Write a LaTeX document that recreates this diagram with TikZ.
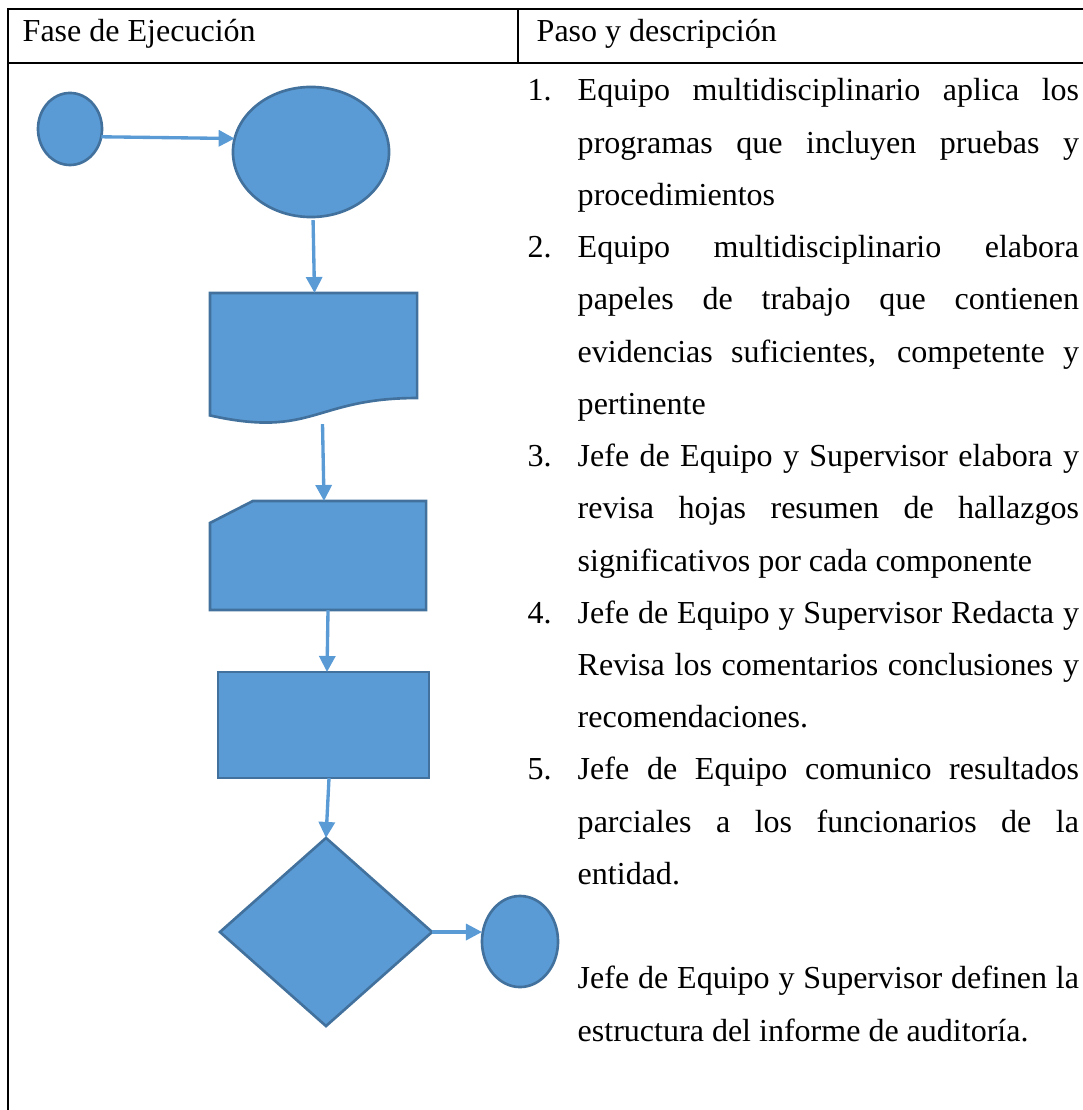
\documentclass[tikz,border=0pt]{standalone}
\usepackage{fontspec}
\setmainfont{Liberation Serif}
\usepackage{tikz}
\usetikzlibrary{shapes.geometric,arrows.meta,calc}
\definecolor{azul}{HTML}{5B9BD5}
\definecolor{azulborde}{HTML}{41719C}
\newcommand{\pasonum}[1]{\noindent\hangindent=0.5cm\hangafter=1\makebox[0.5cm][l]{#1}\ignorespaces}
\tikzset{
  tabla/.style={draw=black,line width=0.8pt},
  caja/.style={inner sep=0pt,outer sep=0pt},
  figura/.style={caja,draw=azulborde,fill=azul,line width=0.75pt},
  texto/.style={font=\fontsize{0.32cm}{0.522cm}\selectfont,inner sep=0pt},
  flow/.style={-{Triangle[length=0.16cm,width=0.16cm]},line width=0.95pt,draw=azul}
}

\begin{document}
\begin{tikzpicture}[x=0.01cm,y=-0.01cm]
\useasboundingbox (0,0) rectangle (1083,1110);
% Tabla
\draw[tabla] (1083,9) -- (8,9) -- (8,1110);
\draw[tabla] (8,63) -- (1083,63);
\draw[tabla] (518,9) -- (518,63);
\node[texto,anchor=base west] (fase) at (22,42) {Fase de Ejecución};
\node[texto,anchor=base west] (paso) at (536,42) {Paso y descripción};

% Diagrama
\node[figura,ellipse,minimum width=0.64cm,minimum height=0.72cm] (ini) at (70,129) {};
\node[figura,ellipse,minimum width=1.56cm,minimum height=1.30cm] (evento) at (311,152) {};
\node[caja,minimum width=2.07cm,minimum height=1.31cm] (doc) at (313.5,358.5) {};
\filldraw[figura] (doc.north west) -- (doc.north east) -- ([yshift=0.26cm]doc.south east)
  .. controls ([yshift=0.26cm]doc.south) and ([yshift=-0.145cm]doc.south) .. ([yshift=0.086cm]doc.south west) -- cycle;
\node[caja,minimum width=2.16cm,minimum height=1.09cm] (tarjeta) at (318,555.5) {};
\filldraw[figura] ([yshift=-0.22cm]tarjeta.north west) -- ([xshift=0.43cm]tarjeta.north west) -- (tarjeta.north east)
  -- (tarjeta.south east) -- (tarjeta.south west) -- cycle;
\node[figura,rectangle,minimum width=2.11cm,minimum height=1.06cm] (proc) at (323.5,725) {};
\node[figura,diamond,minimum width=2.12cm,minimum height=1.88cm] (dec) at (326,932) {};
\node[figura,ellipse,minimum width=0.76cm,minimum height=0.91cm] (fin) at (520,941.5) {};

\draw[flow] (ini.-14) -- (evento.170);
\draw[flow,shorten <=0.03cm] ([xshift=0.02cm]evento.south) -- ([xshift=0.01cm]doc.north);
\draw[flow] ([xshift=0.09cm]doc.south) -- ([xshift=0.06cm]tarjeta.north);
\draw[flow] ([xshift=0.1cm]tarjeta.south) -- ([xshift=0.035cm]proc.north);
\draw[flow] ([xshift=0.055cm]proc.south) -- (dec.north);
\draw[flow] (dec.east) -- (fin.west |- dec.east);

% Pasos
\node[texto,anchor=base west,text width=5.51cm,align=justify] (pasos) at (527,101) {\hyphenpenalty=10000\tolerance=10000
\pasonum{1.}Equipo multidisciplinario aplica los\linebreak programas que incluyen pruebas y\linebreak procedimientos

\pasonum{2.}Equipo multidisciplinario elabora\linebreak papeles de trabajo que contienen\linebreak evidencias suficientes, competente y\linebreak pertinente

\pasonum{3.}Jefe de Equipo y Supervisor elabora y\linebreak revisa hojas resumen de hallazgos\linebreak significativos por cada componente

\pasonum{4.}Jefe de Equipo y Supervisor Redacta y\linebreak Revisa los comentarios conclusiones y\linebreak recomendaciones.

\pasonum{5.}Jefe de Equipo comunico resultados\linebreak parciales a los funcionarios de la\linebreak entidad.\par
\vskip\baselineskip
\noindent\hangindent=0.5cm\hangafter=0 Jefe de Equipo y Supervisor definen la\linebreak estructura del informe de auditoría.\par};
\end{tikzpicture}
\end{document}
